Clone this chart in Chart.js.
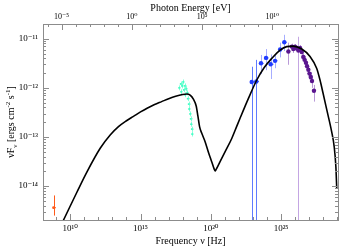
<!DOCTYPE html>
<html>
<head>
<meta charset="utf-8">
<script src="https://cdn.jsdelivr.net/npm/chart.js@4.4.1/dist/chart.umd.min.js"></script>
<style>
  html, body { margin: 0; padding: 0; background: #fff; }
  #wrap { width: 350px; height: 250px; }
</style>
</head>
<body>
<div id="wrap"><canvas id="sed"></canvas></div>
<script>
/* Tick positions (log10 of the axis value) */
const freqTicks = [10, 15, 20, 25];
const energyTicks = [-5, 0, 5, 10];
const fluxTicks = [-14, -13, -12, -11];

/* Axis ranges (log10) */
const logNuMin = 8.06, logNuMax = 29.05;
const logFluxMin = -14.69, logFluxMax = -10.70;
const LOG_H = -14.383; // log10(h) in eV s

/* SED model */
const modelLogNu = [9.4, 9.52, 10.48, 11.19, 12.13, 12.84, 13.43, 14.0, 14.5, 15.0, 15.5, 16.0, 16.5,
  17.0, 17.5, 18.0, 18.3, 18.53, 18.76, 18.96, 19.08, 19.2, 19.35, 19.6, 19.83, 20.07, 20.25,
  20.31, 20.37, 20.66, 21.02, 21.49, 21.85, 22.08, 22.67, 23.27, 23.79, 24.34, 24.93, 25.4,
  25.85, 26.47, 27.06, 27.53, 27.77, 27.98, 28.27, 28.59, 28.78, 28.9, 28.96];
const modelLogFlux = [-14.76, -14.69, -14.12, -13.71, -13.23, -12.96, -12.79, -12.67, -12.58, -12.49, -12.41, -12.34, -12.28,
  -12.22, -12.17, -12.135, -12.125, -12.15, -12.23, -12.37, -12.57, -12.79, -12.92, -13.1, -13.31, -13.51, -13.66,
  -13.69, -13.665, -13.5, -13.3, -13.03, -12.78, -12.62, -12.22, -11.84, -11.59, -11.4, -11.23, -11.16,
  -11.15, -11.21, -11.36, -11.6, -11.84, -12.1, -12.47, -12.88, -13.2, -13.61, -14.04];

/* X-ray points */
const xrayLogNu = [17.75, 17.85, 17.89, 17.96, 18.03, 18.07, 18.14, 18.17, 18.24, 18.32, 18.35,
  18.42, 18.46, 18.53, 18.56, 18.6, 18.64, 18.67];
const xrayLogFlux = [-12.0, -11.92, -12.08, -11.96, -11.88, -12.04, -11.96, -12.14, -12.02, -12.1, -12.22,
  -12.33, -12.43, -12.53, -12.63, -12.74, -12.84, -12.94];

/* GeV points */
const gevLogNu = [22.91, 23.24, 23.57, 23.93, 24.26, 24.57, 24.93, 25.23];
const gevLogFlux = [-11.88, -11.87, -11.5, -11.39, -11.52, -11.45, -11.22, -11.07];
const gevErrUp = [0.31, 0.44, 0.17, 0.18, 0.2, 0.12, 0.14, 0.15];
const gevErrDown = [4, 4, 0.22, 0.25, 0.3, 0.15, 0.16, 0.18];

/* TeV points */
const tevLogNu = [25.52, 25.76, 25.87, 25.99, 26.11, 26.23, 26.35, 26.47, 26.58, 26.67, 26.77,
  26.85, 26.94, 27.02, 27.11, 27.2, 27.34];
const tevLogFlux = [-11.26, -11.16, -11.21, -11.16, -11.2, -11.24, -11.19, -11.27, -11.37, -11.43, -11.49,
  -11.56, -11.63, -11.71, -11.78, -11.86, -12.06];
const tevErrUp = [0.18, 0.06, 0.07, 0.05, 0.06, 0.28, 0.06, 0.07, 0.07, 0.08, 0.08, 0.08, 0.09, 0.1, 0.1, 0.11, 0.12];
const tevErrDown = [0.27, 0.07, 0.08, 0.06, 0.07, 4, 0.07, 0.08, 0.08, 0.09, 0.09, 0.1, 0.11, 0.12, 0.12, 0.14, 0.22];

/* Radio point */
const radioLogNu = [8.81];
const radioLogFlux = [-14.44];
const radioErrUp = [0.25];
const radioErrDown = [0.16];

const frame = "#8c8c8c";
const serif = "'Liberation Serif', 'DejaVu Serif', serif";

const sup = (n) => String(n).split("").map((c) => "⁰¹²³⁴⁵⁶⁷⁸⁹"["0123456789".indexOf(c)] || (c == "-" ? "⁻" : c)).join("");
const toPoints = (xs, ys) => xs.map((x, i) => ({ x: x, y: ys[i] }));

/* error bars drawn under the points */
const errorBars = {
  id: "errorBars",
  beforeDatasetsDraw(chart) {
    const { ctx, chartArea: a, scales } = chart;
    ctx.save();
    ctx.beginPath();
    ctx.rect(a.left, a.top, a.right - a.left, a.bottom - a.top);
    ctx.clip();
    chart.data.datasets.forEach((ds) => {
      if (!ds.errUp) return;
      ctx.lineWidth = 1;
      ds.data.forEach((p, j) => {
        const px = Math.round(scales.x.getPixelForValue(p.x)) + 0.5;
        const py = scales.y.getPixelForValue(p.y);
        ctx.strokeStyle = ds.errDown[j] > 2 ? ds.longColor : ds.errColor;
        ctx.beginPath();
        ctx.moveTo(px, scales.y.getPixelForValue(p.y + ds.errUp[j]));
        ctx.lineTo(px, scales.y.getPixelForValue(p.y - ds.errDown[j]));
        if (ds.errX) {
          ctx.moveTo(px - ds.errX, py);
          ctx.lineTo(px + ds.errX, py);
        }
        ctx.stroke();
      });
    });
    ctx.restore();
  },
};

/* inward tick marks on all four sides, and the y title with sub/superscripts */
const frameDecor = {
  id: "frameDecor",
  afterDraw(chart) {
    const { ctx, chartArea: a, scales } = chart;
    ctx.save();
    ctx.strokeStyle = frame;
    ctx.lineWidth = 1;
    ctx.beginPath();
    for (let v = Math.ceil(logNuMin); v <= logNuMax; v++) {
      const x = Math.round(scales.x.getPixelForValue(v)) + 0.5;
      const len = v % 5 == 0 ? 6 : 3;
      ctx.moveTo(x, a.bottom);
      ctx.lineTo(x, a.bottom - len);
    }
    for (let v = Math.ceil(scales.x2.min); v <= scales.x2.max; v++) {
      const x = Math.round(scales.x2.getPixelForValue(v)) + 0.5;
      const len = v % 5 == 0 ? 6 : 3;
      ctx.moveTo(x, a.top);
      ctx.lineTo(x, a.top + len);
    }
    for (let n = Math.floor(logFluxMin); n <= Math.ceil(logFluxMax); n++) {
      for (let k = 1; k < 10; k++) {
        const v = n + Math.log10(k);
        if (v < logFluxMin || v > logFluxMax) continue;
        const y = Math.round(scales.y.getPixelForValue(v)) + 0.5;
        const len = k == 1 ? 6 : 3;
        ctx.moveTo(a.left, y);
        ctx.lineTo(a.left + len, y);
        ctx.moveTo(a.right, y);
        ctx.lineTo(a.right - len, y);
      }
    }
    ctx.stroke();

    // y axis title
    const parts = [
      ["νF", 10, 0], ["ν", 7, 2.5], [" [ergs cm", 10, 0], ["-2", 7, -4],
      [" s", 10, 0], ["-1", 7, -4], ["]", 10, 0],
    ];
    let w = 0;
    parts.forEach((p) => { ctx.font = p[1] + "px " + serif; w += ctx.measureText(p[0]).width; });
    ctx.translate(14, (a.top + a.bottom) / 2);
    ctx.rotate(-Math.PI / 2);
    ctx.fillStyle = "#000";
    ctx.textBaseline = "alphabetic";
    let x = -w / 2;
    parts.forEach((p) => {
      ctx.font = p[1] + "px " + serif;
      ctx.fillText(p[0], x, p[2]);
      x += ctx.measureText(p[0]).width;
    });
    ctx.restore();
  },
};

const ctx = document.getElementById("sed");
new Chart(ctx, {
  type: "scatter",
  data: {
    datasets: [
      {
        type: "line",
        data: toPoints(modelLogNu, modelLogFlux),
        borderColor: "#000",
        borderWidth: 1.6,
        pointRadius: 0,
        cubicInterpolationMode: "monotone",
        clip: 0,
      },
      {
        data: toPoints(xrayLogNu, xrayLogFlux),
        errUp: xrayLogNu.map(() => 0.05),
        errDown: xrayLogNu.map(() => 0.05),
        errX: 1.5,
        errColor: "rgba(80,255,200,0.7)",
        backgroundColor: "#3dffc4",
        pointRadius: 0.9,
        pointBorderWidth: 0,
      },
      {
        data: toPoints(gevLogNu, gevLogFlux),
        errUp: gevErrUp,
        errDown: gevErrDown,
        errX: 2.5,
        errColor: "#a6adff",
        longColor: "#5f7bff",
        backgroundColor: "#1f3cff",
        pointRadius: 2.2,
        pointBorderWidth: 0,
      },
      {
        data: toPoints(tevLogNu, tevLogFlux),
        errUp: tevErrUp,
        errDown: tevErrDown,
        errX: 1.5,
        errColor: "#b99ad8",
        longColor: "#c4a6e3",
        backgroundColor: "#5a168f",
        pointRadius: 2.2,
        pointBorderWidth: 0,
      },
      {
        data: toPoints(radioLogNu, radioLogFlux),
        errUp: radioErrUp,
        errDown: radioErrDown,
        errX: 1.5,
        errColor: "#ff5a1a",
        backgroundColor: "#ff5a1a",
        pointRadius: 1.4,
        pointBorderWidth: 0,
      },
    ],
  },
  options: {
    responsive: true,
    maintainAspectRatio: false,
    animation: false,
    layout: { padding: 0 },
    plugins: { legend: { display: false }, tooltip: { enabled: false } },
    scales: {
      x: {
        type: "linear",
        position: "bottom",
        min: logNuMin,
        max: logNuMax,
        afterBuildTicks: (s) => { s.ticks = freqTicks.map((v) => ({ value: v })); },
        afterFit: (s) => { s.height = 30; },
        grid: { display: false, drawTicks: false },
        border: { display: true, color: frame },
        ticks: {
          padding: 3,
          color: "#000",
          font: { family: serif, size: 9 },
          maxRotation: 0,
          callback: (v) => "10" + sup(v),
        },
        title: {
          display: true,
          text: "Frequency ν [Hz]",
          color: "#000",
          font: { family: serif, size: 10 },
          padding: { top: 0, bottom: 3 },
        },
      },
      x2: {
        type: "linear",
        position: "top",
        min: logNuMin + LOG_H,
        max: logNuMax + LOG_H,
        afterBuildTicks: (s) => { s.ticks = energyTicks.map((v) => ({ value: v })); },
        afterFit: (s) => { s.height = 24; },
        grid: { display: false, drawTicks: false },
        border: { display: true, color: frame },
        ticks: {
          padding: 2,
          color: "#000",
          font: { family: serif, size: 8 },
          maxRotation: 0,
          callback: (v) => "10" + sup(v),
        },
        title: {
          display: true,
          text: "Photon Energy [eV]",
          color: "#000",
          font: { family: serif, size: 10 },
          padding: { top: 2, bottom: 0 },
        },
      },
      y: {
        type: "linear",
        position: "left",
        min: logFluxMin,
        max: logFluxMax,
        afterBuildTicks: (s) => { s.ticks = fluxTicks.map((v) => ({ value: v })); },
        afterFit: (s) => { s.width = 43; },
        grid: { display: false, drawTicks: false },
        border: { display: true, color: frame },
        ticks: {
          padding: 5,
          color: "#000",
          font: { family: serif, size: 9 },
          callback: (v) => "10" + sup(v),
        },
      },
      y2: {
        type: "linear",
        position: "right",
        min: logFluxMin,
        max: logFluxMax,
        afterFit: (s) => { s.width = 12; },
        grid: { display: false, drawTicks: false },
        border: { display: true, color: frame },
        ticks: { display: false },
      },
    },
  },
  plugins: [errorBars, frameDecor],
});
</script>
</body>
</html>
